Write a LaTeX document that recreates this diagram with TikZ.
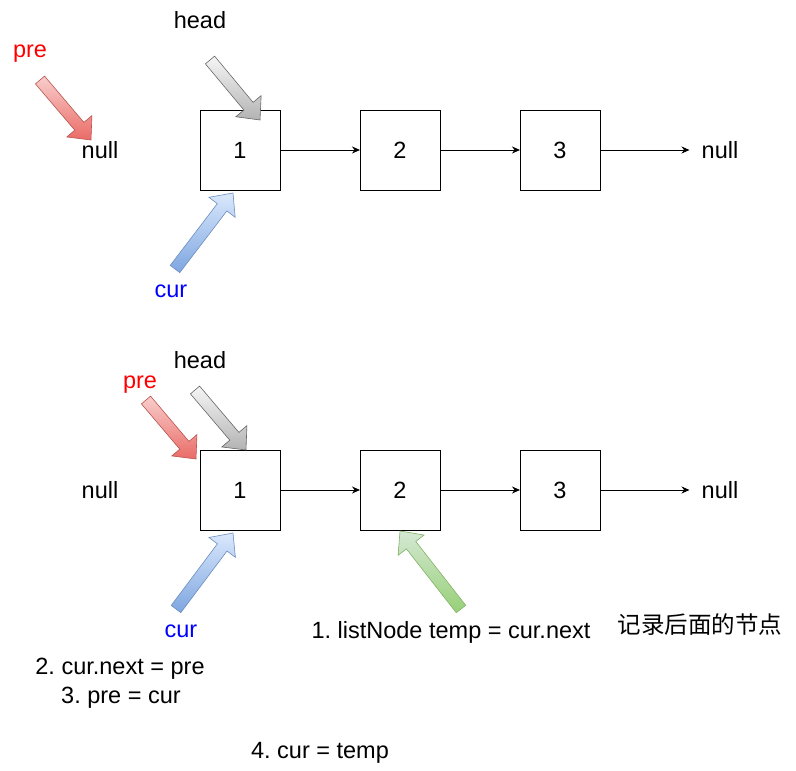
\documentclass[tikz,border=0pt]{standalone}
\usepackage{fontspec}
\setmainfont{Liberation Sans}
\newfontfamily\cjk{Noto Sans CJK SC}
\usepackage{tikz}
\usetikzlibrary{positioning, calc, arrows.meta}
\frenchspacing
\definecolor{ptrred}{HTML}{FF0000}
\definecolor{ptrblue}{HTML}{0000FF}
\definecolor{redlight}{HTML}{F8CECC}
\definecolor{reddark}{HTML}{EA6B66}
\definecolor{redline}{HTML}{B85450}
\definecolor{graylight}{HTML}{F5F5F5}
\definecolor{graydark}{HTML}{B3B3B3}
\definecolor{grayline}{HTML}{666666}
\definecolor{bluelight}{HTML}{DAE8FC}
\definecolor{bluedark}{HTML}{7EA6E0}
\definecolor{blueline}{HTML}{6C8EBF}
\definecolor{greenlight}{HTML}{D5E8D4}
\definecolor{greendark}{HTML}{97D077}
\definecolor{greenline}{HTML}{82B366}
% block arrow: #1 style, #2 tail, #3 tip
\newcommand{\blockarrow}[3]{%
  \coordinate (ab) at ($(#3)!18pt!(#2)$);
  \draw[#1] ($(#2)!6pt!90:(#3)$) -- ($(ab)!6pt!90:(#3)$) -- ($(ab)!16.5pt!90:(#3)$)
    -- (#3) -- ($(ab)!16.5pt!-90:(#3)$) -- ($(ab)!6pt!-90:(#3)$) -- ($(#2)!6pt!-90:(#3)$) -- cycle;}

\begin{document}
\begin{tikzpicture}[x=1pt, y=-1pt,
  box/.style={draw, line width=1pt, minimum size=80pt, inner sep=0pt, outer sep=0pt, font=\fontsize{23.5}{28}\selectfont},
  lbl/.style={inner sep=0pt, anchor=base, font=\fontsize{23.5}{28}\selectfont},
  link/.style={line width=1pt, -{Stealth[length=8pt, width=7pt]}},
  redarr/.style={draw=redline, line width=0.6pt, top color=redlight, bottom color=reddark},
  grayarr/.style={draw=grayline, line width=0.6pt, top color=graylight, bottom color=graydark},
  bluearr/.style={draw=blueline, line width=0.6pt, top color=bluelight, bottom color=bluedark},
  greenarr/.style={draw=greenline, line width=0.6pt, top color=greenlight, bottom color=greendark}]
\useasboundingbox (0,0) rectangle (796,771);

% first list
\node[box] (a1) at (240,150) {1};
\node[box, right=80pt of a1] (a2) {2};
\node[box, right=80pt of a2] (a3) {3};
\node[lbl] (anullL) at (100,158) {null};
\node[lbl] (anullR) at (720,158) {null};
\draw[link] (a1) -- (a2);
\draw[link] (a2) -- (a3);
\draw[link, shorten >=12pt] (a3.east) -- (anullR.base west |- a3.east);

\node[lbl, text=ptrred] (apre) at (30,57) {pre};
\node[lbl] (ahead) at (200,28) {head};
\node[lbl, text=ptrblue] (acur) at (171,297) {cur};
\blockarrow{redarr}{40,80}{91,140}
\blockarrow{grayarr}{210,60}{260,120}
\blockarrow{bluearr}{175,269}{233,193}

% second list
\node[box] (b1) at (240,490) {1};
\node[box, right=80pt of b1] (b2) {2};
\node[box, right=80pt of b2] (b3) {3};
\node[lbl] (bnullL) at (100,498) {null};
\node[lbl] (bnullR) at (720,498) {null};
\draw[link] (b1) -- (b2);
\draw[link] (b2) -- (b3);
\draw[link, shorten >=12pt] (b3.east) -- (bnullR.base west |- b3.east);

\node[lbl, text=ptrred] (bpre) at (140,388) {pre};
\node[lbl] (bhead) at (200,368) {head};
\node[lbl, text=ptrblue] (bcur) at (181,637) {cur};
\blockarrow{redarr}{146,400}{196,459}
\blockarrow{grayarr}{195,390}{246,450}
\blockarrow{bluearr}{176,609}{233,533}
\blockarrow{greenarr}{461,609}{400,531}

% steps
\node[lbl] (step1) at (451,638) {1. listNode temp = cur.next};
\node[lbl, font=\fontsize{23.5}{28}\cjk] (note) at (700,633) {记录后面的节点};
\node[lbl] (step2) at (120,674) {2. cur.next = pre};
\node[lbl] (step3) at (121,703) {3. pre = cur};
\node[lbl] (step4) at (320,758) {4. cur = temp};
\end{tikzpicture}
\end{document}
